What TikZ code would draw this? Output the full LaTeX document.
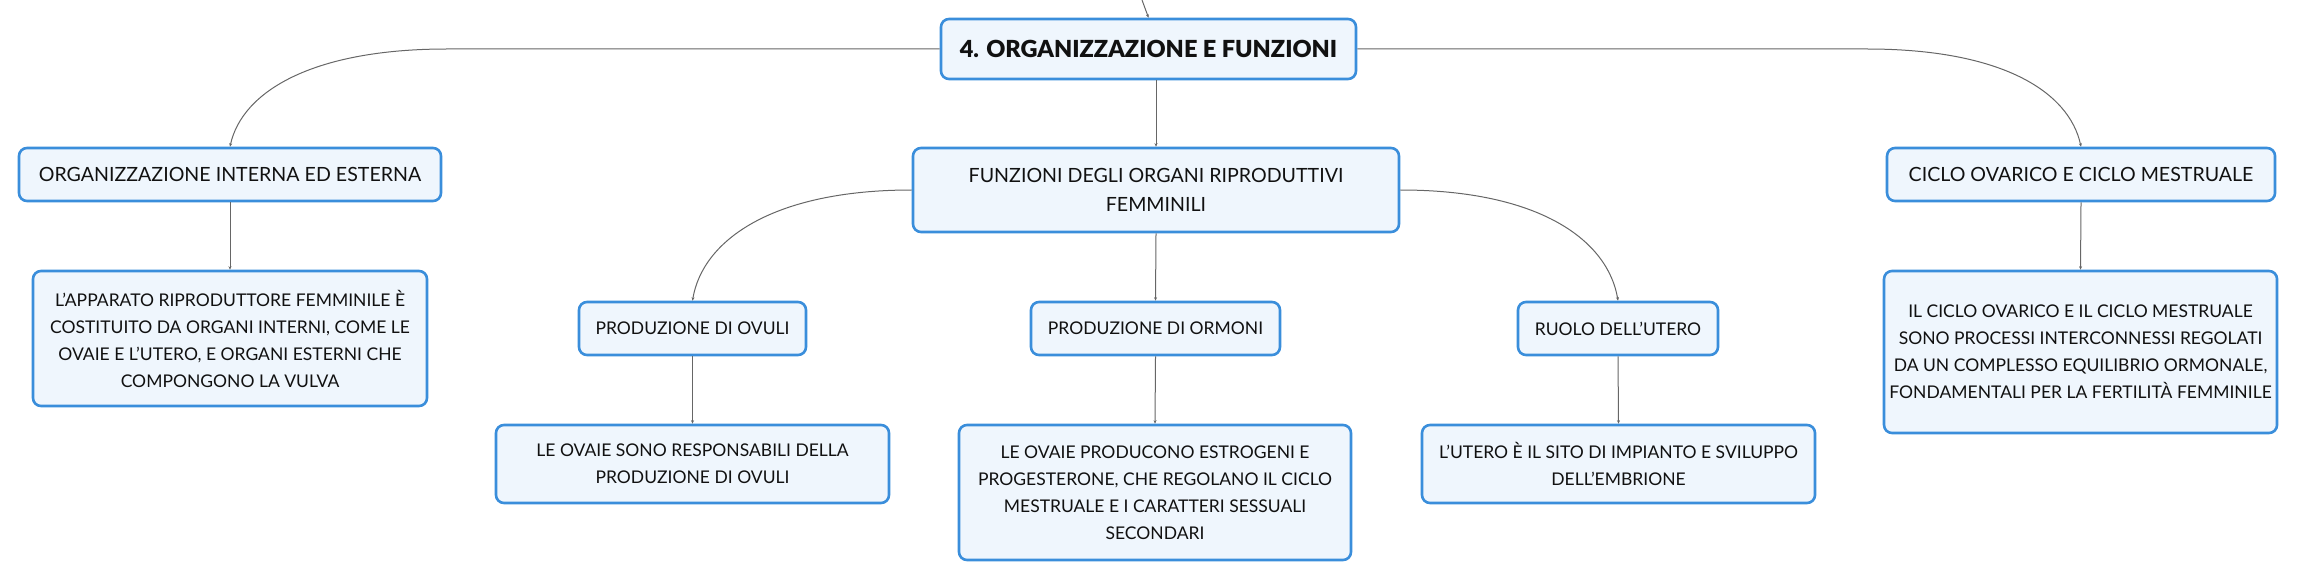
\documentclass[tikz,border=0pt]{standalone}
\usepackage{fontspec}
\usetikzlibrary{arrows.meta}
\setmainfont{Lato}
\newfontfamily\titlefont{Lato Black}
\definecolor{boxline}{HTML}{3A8EDB}
\definecolor{boxfill}{HTML}{EFF6FD}
\definecolor{conn}{HTML}{666666}
\definecolor{txt}{HTML}{111111}
\begin{document}
\begin{tikzpicture}[x=1pt,y=-1pt,
  mbox/.style={draw=boxline, fill=boxfill, line width=2.6pt, rounded corners=8pt,
    align=center, inner sep=0pt, text=txt,
    font=\fontsize{17.5}{27}\selectfont},
  subbox/.style={mbox, font=\fontsize{19.6}{28.5}\selectfont},
  rootbox/.style={mbox, font=\fontsize{23.5}{28}\selectfont\titlefont},
  link/.style={draw=conn, line width=1pt, -{Stealth[length=3.5pt,width=3pt]}}
]
\useasboundingbox (0,0) rectangle (2298,580);

\node[rootbox, minimum width=415pt, minimum height=60pt] (root) at (1148.5,49) {4. ORGANIZZAZIONE E FUNZIONI};
\node[subbox, minimum width=486pt, minimum height=84pt] (fun) at (1156,190) {FUNZIONI DEGLI ORGANI RIPRODUTTIVI\\FEMMINILI};
\node[subbox, minimum width=422pt, minimum height=53pt] (org) at (230,174.5) {ORGANIZZAZIONE INTERNA ED ESTERNA};
\node[mbox, minimum width=394pt, minimum height=135pt] (app) at (230,338.5) {L'APPARATO RIPRODUTTORE FEMMINILE È\\COSTITUITO DA ORGANI INTERNI, COME LE\\OVAIE E L'UTERO, E ORGANI ESTERNI CHE\\COMPONGONO LA VULVA};
\node[subbox, minimum width=388pt, minimum height=53pt] (cic) at (2081,174.5) {CICLO OVARICO E CICLO MESTRUALE};
\node[mbox, minimum width=393pt, minimum height=162pt] (cicd) at (2080.5,352) {IL CICLO OVARICO E IL CICLO MESTRUALE\\SONO PROCESSI INTERCONNESSI REGOLATI\\DA UN COMPLESSO EQUILIBRIO ORMONALE,\\FONDAMENTALI PER LA FERTILITÀ FEMMINILE};
\node[mbox, minimum width=227pt, minimum height=53pt] (ovu) at (692.5,328.5) {PRODUZIONE DI OVULI};
\node[mbox, minimum width=249pt, minimum height=53pt] (orm) at (1155.5,328.5) {PRODUZIONE DI ORMONI};
\node[mbox, minimum width=200pt, minimum height=53pt] (ute) at (1618,328.5) {RUOLO DELL'UTERO};
\node[mbox, minimum width=393pt, minimum height=78pt] (ovud) at (692.5,464) {LE OVAIE SONO RESPONSABILI DELLA\\PRODUZIONE DI OVULI};
\node[mbox, minimum width=392pt, minimum height=135pt] (ormd) at (1155,492.5) {LE OVAIE PRODUCONO ESTROGENI E\\PROGESTERONE, CHE REGOLANO IL CICLO\\MESTRUALE E I CARATTERI SESSUALI\\SECONDARI};
\node[mbox, minimum width=393pt, minimum height=78pt] (uted) at (1618.5,464) {L'UTERO È IL SITO DI IMPIANTO E SVILUPPO\\DELL'EMBRIONE};

\coordinate (top) at (1142,0);
\coordinate (lbend) at (447,49);
\coordinate (rbend) at (1867,49);

\draw[link] (top) -- (root.north);
\draw[link] (root.south -| fun.north) -- (fun.north);
\draw[link] (root.west) -- (lbend) .. controls +(-135,0) and +(12,-55) .. (org.north);
\draw[link] (root.east) -- (rbend) .. controls +(135,0) and +(-12,-55) .. (cic.north);
\draw[link] (org.south) -- (app.north);
\draw[link] (cic.south) -- (cicd.north);
\draw[link] (fun.west) .. controls +(-140,0) and +(10,-60) .. (ovu.north);
\draw[link] (fun.east) .. controls +(140,0) and +(-10,-60) .. (ute.north);
\draw[link] (fun.south) -- (orm.north);
\draw[link] (ovu.south) -- (ovud.north);
\draw[link] (orm.south) -- (ormd.north);
\draw[link] (ute.south) -- (uted.north);
\end{tikzpicture}
\end{document}
